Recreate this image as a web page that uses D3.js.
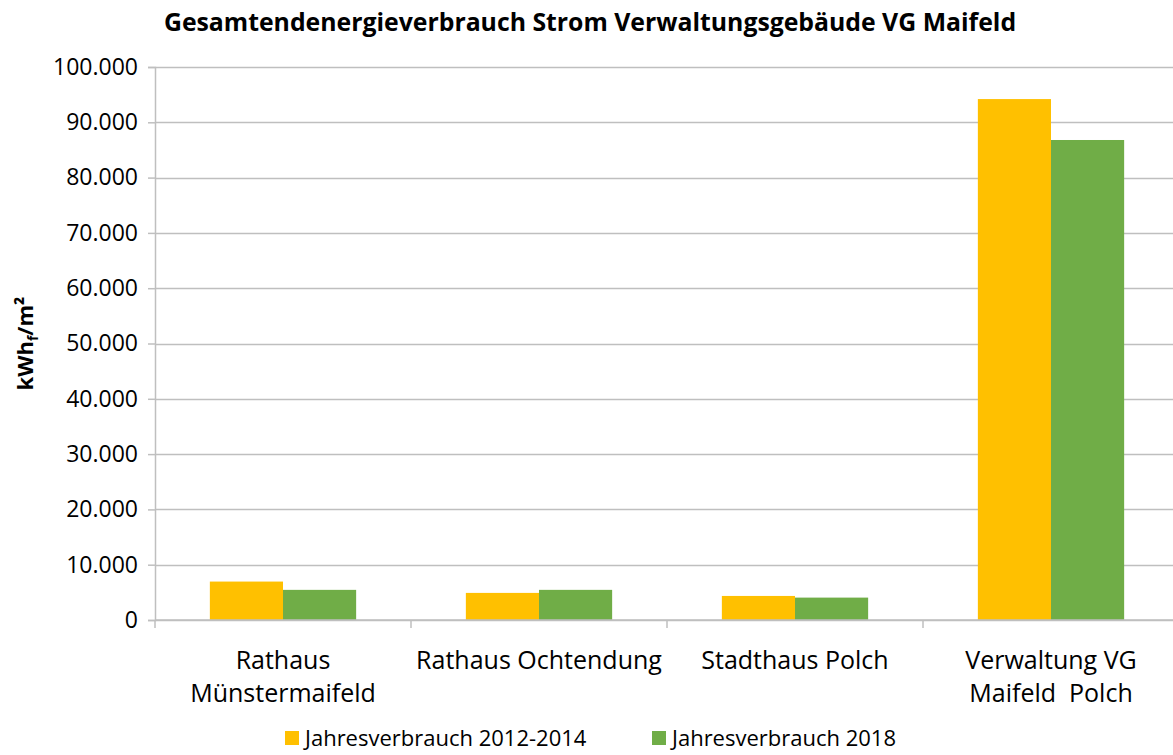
<!DOCTYPE html>
<html>
<head>
    <meta charset="utf-8">
    <title>Gesamtendenergieverbrauch Strom</title>
    <script src="https://cdn.jsdelivr.net/npm/d3@7/dist/d3.min.js"></script>
    <style>
        body { margin: 0; background: #fff; }
        svg text { fill: #000; }
    </style>
</head>
<body>
    <script>
        // Daten
        var categories = ["Rathaus Münstermaifeld", "Rathaus Ochtendung", "Stadthaus Polch", "Verwaltung VG Maifeld  Polch"];
        var categoryLines = [["Rathaus", "Münstermaifeld"], ["Rathaus Ochtendung"], ["Stadthaus Polch"], ["Verwaltung VG", "Maifeld  Polch"]];
        var seriesNames = ["Jahresverbrauch 2012-2014", "Jahresverbrauch 2018"];
        var values2012 = [6950, 4900, 4350, 94200];
        var values2018 = [5450, 5450, 4050, 86800];
        var yTicks = [0, 10000, 20000, 30000, 40000, 50000, 60000, 70000, 80000, 90000, 100000];
        var colors = ["#FFC000", "#70AD47"];

        var width = 1173, height = 755;
        var margin = { top: 67, bottom: 135, left: 155, right: -6 };
        var font = "'Open Sans', sans-serif";

        var svg = d3.select("body").append("svg").attr("width", width).attr("height", height);

        var x = d3.scaleBand().domain(categories).range([margin.left, width - margin.right]).paddingInner(0).paddingOuter(0);
        var xs = d3.scaleBand().domain(seriesNames).range([0, x.bandwidth()]).paddingInner(0).paddingOuter(0.75);
        var y = d3.scaleLinear().domain([0, 100000]).range([height - margin.bottom, margin.top]);

        var fmt = function (d) { return d3.format(",")(d).replace(/,/g, "."); };

        // Gitternetz
        svg.append("g")
            .selectAll("line")
            .data(yTicks)
            .enter()
            .append("line")
            .attr("x1", margin.left)
            .attr("x2", width)
            .attr("y1", function (d) { return Math.round(y(d)) + 0.5; })
            .attr("y2", function (d) { return Math.round(y(d)) + 0.5; })
            .attr("stroke", "#bfbfbf")
            .attr("stroke-width", 1.5);

        // Balken
        var series = [values2012, values2018];
        series.forEach(function (vals, si) {
            svg.append("g")
                .selectAll("rect")
                .data(vals)
                .enter()
                .append("rect")
                .attr("x", function (d, i) { return x(categories[i]) + xs(seriesNames[si]); })
                .attr("width", xs.bandwidth())
                .attr("y", function (d) { return y(d); })
                .attr("height", function (d) { return y(0) - y(d); })
                .attr("fill", colors[si]);
        });

        // Y-Achse
        var axisY = svg.append("g")
            .attr("transform", "translate(" + margin.left + ",0)")
            .call(d3.axisLeft(y).tickValues(yTicks).tickFormat(fmt).tickSize(7).tickPadding(10));
        axisY.select(".domain").attr("stroke", "#bfbfbf").attr("stroke-width", 1.5);
        axisY.selectAll(".tick line").attr("stroke", "#bfbfbf").attr("stroke-width", 1.5);
        axisY.selectAll(".tick text")
            .attr("font-family", font)
            .attr("font-size", "23px")
            .attr("fill", "#000");

        // X-Achse
        var axisX = svg.append("g")
            .attr("transform", "translate(0," + y(0) + ")");
        axisX.append("line")
            .attr("x1", margin.left).attr("x2", width)
            .attr("stroke", "#bfbfbf").attr("stroke-width", 1.5);
        axisX.selectAll("line.tk")
            .data(categories)
            .enter()
            .append("line")
            .attr("class", "tk")
            .attr("x1", function (d) { return x(d); })
            .attr("x2", function (d) { return x(d); })
            .attr("y1", 0).attr("y2", 8)
            .attr("stroke", "#bfbfbf").attr("stroke-width", 1.5);

        var labels = svg.append("g")
            .selectAll("text")
            .data(categories)
            .enter()
            .append("text")
            .attr("text-anchor", "middle")
            .attr("font-family", font)
            .attr("font-size", "25px")
            .attr("x", function (d) { return x(d) + x.bandwidth() / 2; })
            .attr("y", y(0) + 49);
        labels.selectAll("tspan")
            .data(function (d, i) { return categoryLines[i]; })
            .enter()
            .append("tspan")
            .attr("x", function () { return d3.select(this.parentNode).attr("x"); })
            .attr("dy", function (d, i) { return i === 0 ? 0 : 33; })
            .style("white-space", "pre")
            .text(function (d) { return d; });

        // Titel
        svg.append("text")
            .attr("x", 590)
            .attr("y", 31)
            .attr("text-anchor", "middle")
            .attr("font-family", font)
            .attr("font-weight", "bold")
            .attr("font-size", "24.8px")
            .text("Gesamtendenergieverbrauch Strom Verwaltungsgebäude VG Maifeld");

        // Y-Titel
        var yt = svg.append("text")
            .attr("transform", "translate(33," + ((margin.top + y(0)) / 2) + ") rotate(-90)")
            .attr("text-anchor", "middle")
            .attr("font-family", font)
            .attr("font-weight", "bold")
            .attr("font-size", "22px");
        yt.append("tspan").text("kWh");
        yt.append("tspan").attr("font-size", "14px").attr("dy", 5).text("f");
        yt.append("tspan").attr("dy", -5).text("/m²");

        // Legende
        var legendX = [285, 652];
        var legend = svg.append("g")
            .selectAll("g")
            .data(seriesNames)
            .enter()
            .append("g")
            .attr("transform", function (d, i) { return "translate(" + legendX[i] + ",731)"; });
        legend.append("rect")
            .attr("width", 14).attr("height", 14)
            .attr("fill", function (d, i) { return colors[i]; });
        legend.append("text")
            .attr("x", 20)
            .attr("y", 15)
            .attr("font-family", font)
            .attr("font-size", "22px")
            .text(function (d) { return d; });
    </script>
</body>
</html>
